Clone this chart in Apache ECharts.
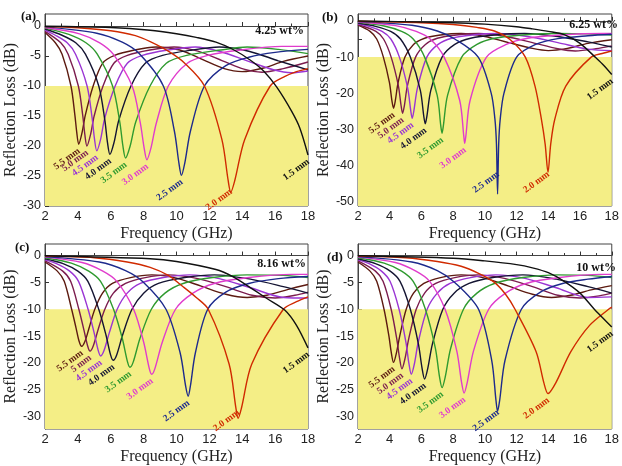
<!DOCTYPE html>
<html>
<head>
<meta charset="utf-8">
<script src="https://cdn.jsdelivr.net/npm/echarts@6/dist/echarts.min.js"></script>
<style>
  html, body { margin: 0; padding: 0; background: #fff; }
</style>
</head>
<body>
<div id="main" style="width:622px;height:466px;"></div>
<script type="text/javascript">
// thickness labels, line colours (5.5 mm ... 1.5 mm)
var thickA = ['5.5 mm', '5.0 mm', '4.5 mm', '4.0 mm', '3.5 mm', '3.0 mm', '2.5 mm', '2.0 mm', '1.5 mm'];
var thickC = ['5.5 mm', '5 mm', '4.5 mm', '4.0 mm', '3.5 mm', '3.0 mm', '2.5 mm', '2.0 mm', '1.5 mm'];
var lineColors = ['#5c1a10', '#7b1c4e', '#9a35d4', '#141432', '#2f9a2f', '#e03ccc', '#1d2a8c', '#d02a00', '#111111'];
var panelTags = ['(a)', '(b)', '(c)', '(d)'];
var loadings = ['4.25 wt%', '6.25 wt%', '8.16 wt%', '10 wt%'];

// (a) 4.25 wt%   [frequency GHz, RL dB]
var a55 = [[2,-1.1],[2.63,-2.8],[3.04,-4.7],[3.58,-10],[3.82,-14.9],[3.93,-17.7],[4.05,-19.7],[4.26,-17.7],[4.45,-14.9],[4.93,-10],[5.51,-6.2],[6.23,-4.9],[7.45,-4.0],[8.75,-3.5],[10.2,-4.0],[11.6,-5.6],[12.9,-7.1],[14,-7.6],[15.3,-7.0],[16.5,-5.9],[18,-5.0]];
var a50 = [[2,-0.9],[2.96,-2.8],[3.41,-4.7],[4.03,-10],[4.30,-15],[4.42,-18],[4.55,-20],[4.78,-18],[4.99,-15],[5.53,-10],[6.19,-6.2],[7.01,-4.9],[8.38,-4.0],[9.85,-3.5],[11.3,-4.2],[12.8,-5.8],[14.1,-7.2],[15.2,-7.7],[16.5,-7.1],[18,-6.0]];
var a45 = [[2,-0.7],[2.6,-1.5],[3.35,-2.8],[3.86,-4.7],[4.56,-10],[4.87,-15.4],[5.01,-18.8],[5.15,-20.8],[5.39,-18.8],[5.63,-15.4],[6.27,-10],[7.01,-6.2],[7.93,-4.9],[9.48,-4.0],[11.15,-3.5],[12.7,-4.3],[14.3,-5.8],[15.9,-7.3],[17,-7.8],[18,-7.5]];
var a40 = [[2,-0.5],[3,-1.5],[3.87,-2.8],[4.46,-4.7],[5.27,-10],[5.64,-15.7],[5.8,-19.4],[5.95,-21.4],[6.2,-19.4],[6.49,-15.7],[7.23,-10],[8.1,-6.2],[9.15,-4.9],[10.95,-4.0],[12.6,-3.5],[14.4,-4.2],[16.2,-5.8],[18,-7.3]];
var a35 = [[2,-0.35],[3.45,-1.4],[4.49,-2.8],[5.18,-4.7],[6.11,-10],[6.55,-16],[6.74,-20],[6.9,-22],[7.18,-20],[7.52,-16],[8.39,-10],[9.38,-6.2],[10.62,-4.9],[12.7,-4.0],[14.3,-3.5],[16.2,-3.9],[18,-4.6]];
var a30 = [[2,-0.25],[4.1,-1.3],[5.33,-2.8],[6.15,-4.7],[7.3,-10],[7.8,-16.2],[8.03,-20.3],[8.2,-22.3],[8.45,-20.3],[8.77,-16.2],[9.5,-10],[10.66,-6.2],[11.9,-4.9],[13.9,-4.0],[16.4,-3.4],[18,-3.4]];
var a25 = [[2,-0.15],[5.15,-1.2],[6.7,-2.7],[7.73,-4.6],[9.2,-10],[9.87,-17.5],[10.15,-22.9],[10.3,-24.9],[10.5,-22.9],[10.85,-17.5],[11.7,-10],[13.0,-6.6],[14.4,-5.2],[16,-4.4],[18,-3.9]];
var a20 = [[2,-0.1],[4,-0.3],[6,-0.8],[7.5,-1.6],[8.4,-2.6],[9.5,-4.2],[10.5,-6.2],[11.7,-10],[12.76,-18.9],[13.14,-25.7],[13.3,-27.7],[13.55,-25.7],[14.15,-18.9],[15.7,-10],[16.6,-8.4],[17.3,-7.6],[18,-7.1]];
var a15 = [[2,-0.05],[6,-0.25],[8.4,-0.7],[10,-1.3],[11.2,-1.9],[12.4,-2.7],[13.5,-4],[14.5,-5.7],[15.3,-7.5],[16.1,-10.2],[17,-14.2],[17.5,-17],[18,-21.5]];

// (b) 6.25 wt%
var b55 = [[2,-1.2],[2.76,-2.9],[3.18,-5],[3.6,-10],[3.98,-17],[4.14,-22.1],[4.24,-24.1],[4.35,-22.1],[4.53,-17],[4.96,-10],[5.5,-6.5],[6.2,-4.8],[7.2,-3.9],[8.5,-3.5],[10,-4.3],[11.5,-6],[13,-7.6],[14,-8.2],[15.2,-7.6],[16.5,-6.2],[18,-5.2]];
var b50 = [[2,-1.0],[3.13,-2.9],[3.61,-5],[4.09,-10],[4.54,-17.8],[4.72,-23.5],[4.81,-25.5],[4.92,-23.5],[5.12,-17.8],[5.63,-10],[6.25,-6.5],[7,-4.8],[8.2,-3.9],[9.6,-3.5],[11.3,-4.3],[13,-6],[14.6,-7.7],[15.7,-8.3],[17,-7.7],[18,-6.9]];
var b45 = [[2,-0.8],[2.7,-1.5],[3.52,-2.9],[4.07,-5],[4.61,-10],[5.13,-18.5],[5.33,-24.9],[5.42,-26.9],[5.52,-24.9],[5.75,-18.5],[6.34,-10],[7.05,-6.5],[7.9,-4.8],[9.2,-3.9],[10.8,-3.5],[12.7,-4.3],[14.6,-6],[16.5,-7.8],[18,-8.2]];
var b40 = [[2,-0.6],[3.1,-1.5],[4.06,-2.9],[4.68,-5],[5.3,-10],[5.93,-19.2],[6.15,-26.4],[6.24,-28.4],[6.34,-26.4],[6.59,-19.2],[7.3,-10],[8.1,-6.5],[9.1,-4.8],[10.6,-3.9],[12.5,-3.5],[14.6,-4.3],[16.5,-5.8],[18,-7.2]];
var b35 = [[2,-0.4],[3.65,-1.4],[4.75,-2.9],[5.48,-5],[6.2,-10],[6.99,-20.5],[7.22,-29],[7.3,-31],[7.38,-29],[7.65,-20.5],[8.54,-10],[9.5,-6.5],[10.6,-4.8],[12.4,-3.9],[14.6,-3.5],[16.5,-3.6],[18,-3.9]];
var b30 = [[2,-0.3],[4.37,-1.3],[5.67,-2.9],[6.55,-5],[7.43,-10],[8.41,-21.9],[8.67,-31.8],[8.73,-33.8],[8.8,-31.8],[9.07,-21.9],[10.1,-10],[11.35,-6.5],[12.7,-4.8],[14.8,-3.9],[17.5,-3.5],[18,-3.5]];
var b25 = [[2,-0.2],[5.4,-1.2],[7,-2.8],[8.1,-5],[9.58,-10],[10.4,-20],[10.63,-27],[10.73,-34],[10.8,-47.8],[10.87,-34],[10.97,-27],[11.2,-20],[12.0,-10],[13.2,-6.5],[14.6,-4.9],[16.5,-4.1],[18,-3.7]];
var b20 = [[2,-0.1],[6,-0.5],[8,-1],[9.5,-1.8],[10.6,-2.8],[11.6,-5.2],[12.55,-10],[13.16,-18],[13.57,-27.3],[13.8,-34],[13.98,-41.8],[14.15,-34],[14.4,-27.3],[15.1,-18],[16.7,-10],[17.4,-9],[18,-8.3]];
var b15 = [[2,-0.05],[8,-0.5],[10,-0.9],[12,-1.6],[13,-2.2],[14,-2.9],[15,-3.8],[16,-6.2],[17,-10.2],[17.5,-12.3],[18,-14.8]];

// (c) 8.16 wt%
var c55 = [[2,-1.2],[2.75,-2.9],[3.17,-4.8],[3.62,-10],[3.89,-13.5],[4.07,-15.9],[4.23,-16.9],[4.44,-15.9],[4.68,-13.5],[5.03,-10],[5.5,-7],[6.1,-5.2],[7.2,-4.1],[8.5,-3.6],[10,-4.2],[11.5,-5.7],[13,-7.2],[14.3,-7.8],[15.5,-7.4],[16.8,-6.3],[18,-5.4]];
var c50 = [[2,-1.0],[3.08,-2.9],[3.56,-4.8],[4.06,-10],[4.37,-13.9],[4.59,-16.8],[4.74,-17.8],[4.94,-16.8],[5.22,-13.9],[5.64,-10],[6.16,-7],[6.9,-5.2],[8.1,-4.1],[9.5,-3.6],[11.3,-4.3],[13,-5.8],[14.6,-7.4],[16,-7.9],[17.2,-7.4],[18,-6.8]];
var c45 = [[2,-0.8],[2.7,-1.5],[3.5,-2.9],[4.04,-4.8],[4.62,-10],[4.99,-14.4],[5.24,-17.7],[5.39,-18.7],[5.59,-17.7],[5.91,-14.4],[6.39,-10],[7.0,-7],[7.8,-5.2],[9.2,-4.1],[10.8,-3.6],[12.6,-4.3],[14.5,-6],[16.5,-7.8],[18,-7.9]];
var c40 = [[2,-0.6],[3.1,-1.5],[4.0,-2.9],[4.61,-4.8],[5.27,-10],[5.71,-14.8],[5.99,-18.5],[6.15,-19.5],[6.36,-18.5],[6.72,-14.8],[7.29,-10],[8.0,-7],[8.9,-5.2],[10.5,-4.1],[12.3,-3.6],[14.5,-4.4],[16.5,-5.8],[18,-7]];
var c35 = [[2,-0.4],[3.6,-1.4],[4.66,-2.9],[5.38,-4.8],[6.17,-10],[6.7,-15.4],[7.02,-19.8],[7.17,-20.8],[7.37,-19.8],[7.78,-15.4],[8.47,-10],[9.3,-7],[10.4,-5.2],[12.2,-4.1],[14.3,-3.6],[16.5,-3.7],[18,-4.1]];
var c30 = [[2,-0.3],[4.25,-1.3],[5.52,-2.9],[6.37,-4.8],[7.39,-10],[8.0,-16.1],[8.35,-21.1],[8.49,-22.1],[8.68,-21.1],[9.14,-16.1],[9.94,-10],[11.0,-7],[12.3,-5.2],[14.4,-4.1],[17,-3.5],[18,-3.5]];
var c25 = [[2,-0.2],[5.3,-1.2],[6.9,-2.8],[8.0,-5],[9.36,-10],[10.22,-18.1],[10.55,-24.2],[10.71,-26.2],[10.85,-24.2],[11.15,-18.1],[11.9,-10],[13.0,-6.8],[14.4,-5.2],[16.2,-4.3],[18,-3.9]];
var c20 = [[2,-0.1],[5,-0.4],[7,-1.2],[8.4,-2.2],[9.5,-3.7],[10.4,-5.8],[11.2,-7.8],[11.93,-10],[13.2,-20.2],[13.61,-28.3],[13.75,-30.3],[13.96,-28.3],[14.58,-20.2],[16.5,-10],[17.3,-8.6],[18,-7.7]];
var c15 = [[2,-0.05],[8.4,-0.6],[10,-1.1],[12.4,-2.6],[13.4,-3.9],[14.4,-5.8],[15.5,-8],[16.6,-10.2],[17.3,-13],[18,-17.2]];

// (d) 10 wt%
var d55 = [[2,-1.2],[2.76,-2.9],[3.18,-4.8],[3.64,-10],[3.95,-15],[4.09,-17.9],[4.24,-19.9],[4.44,-17.9],[4.63,-15],[5.04,-10],[5.5,-7],[6.15,-5.2],[7.2,-4.1],[8.5,-3.6],[10,-4.2],[11.5,-5.7],[13,-7.2],[14.2,-7.8],[15.4,-7.4],[16.7,-6.4],[18,-5.6]];
var d50 = [[2,-1.0],[3.1,-2.9],[3.58,-4.8],[4.09,-10],[4.45,-15.6],[4.62,-19.1],[4.77,-21.1],[4.97,-19.1],[5.19,-15.6],[5.67,-10],[6.2,-7],[6.9,-5.2],[8.1,-4.1],[9.5,-3.6],[11.3,-4.3],[13,-5.8],[14.6,-7.4],[16,-7.9],[17.2,-7.5],[18,-7]];
var d45 = [[2,-0.8],[2.7,-1.5],[3.48,-2.9],[4.02,-4.8],[4.59,-10],[5.02,-16.1],[5.21,-20.1],[5.36,-22.1],[5.56,-20.1],[5.8,-16.1],[6.36,-10],[7.0,-7],[7.8,-5.2],[9.1,-4.1],[10.7,-3.6],[12.6,-4.3],[14.5,-6],[16.5,-7.8],[18,-7.7]];
var d40 = [[2,-0.6],[3.1,-1.5],[4.03,-2.9],[4.65,-4.8],[5.3,-10],[5.81,-16.5],[6.04,-21],[6.2,-23],[6.4,-21],[6.69,-16.5],[7.35,-10],[8.06,-7],[9.0,-5.2],[10.5,-4.1],[12.4,-3.6],[14.5,-4.4],[16.5,-5.8],[18,-7]];
var d35 = [[2,-0.4],[3.65,-1.4],[4.75,-2.9],[5.48,-4.8],[6.25,-10],[6.88,-17.3],[7.14,-22.6],[7.3,-24.6],[7.5,-22.6],[7.84,-17.3],[8.65,-10],[9.5,-7],[10.6,-5.2],[12.4,-4.1],[14.6,-3.6],[16.5,-3.7],[18,-4.1]];
var d30 = [[2,-0.3],[4.35,-1.3],[5.65,-2.9],[6.52,-4.8],[7.49,-10],[8.23,-17.8],[8.53,-23.6],[8.69,-25.6],[8.89,-23.6],[9.28,-17.8],[10.24,-10],[11.3,-7],[12.6,-5.2],[14.7,-4.1],[17.3,-3.5],[18,-3.5]];
var d25 = [[2,-0.2],[5.4,-1.2],[7,-2.8],[8.1,-5],[9.6,-10],[10.43,-19.5],[10.7,-27],[10.8,-29],[10.93,-27],[11.27,-19.5],[12.3,-10],[13.5,-6.8],[14.9,-5.2],[16.5,-4.4],[18,-3.9]];
var d20 = [[2,-0.1],[5,-0.4],[7,-1.1],[8.5,-2],[9.6,-3.3],[10.56,-4.9],[11.3,-7.2],[11.9,-10],[13.23,-17.9],[13.72,-23.7],[13.98,-25.7],[14.47,-23.7],[15.42,-17.9],[16.6,-13],[17.8,-10],[18,-9.6]];
var d15 = [[2,-0.05],[8,-0.5],[10,-1],[12,-1.7],[13,-2.3],[14,-3.2],[15,-4.8],[16,-7],[16.9,-10],[17.5,-11.8],[18,-13.3]];

// y axis extents and tick values per panel
var yMins = [-30, -51.1, -32.3, -32.3];
var yMaxs = [2, 1.9, 2.15, 2.15];
var yTicksA = [0, -5, -10, -15, -20, -25, -30];
var yTicksB = [0, -5, -10, -15, -20, -25, -30, -35, -40, -45, -50];
var yLabelsB = [0, -10, -20, -30, -40, -50];
// lowest level a thickness label may hang from (keeps text inside the frame)
var labelFloor = [-26.5, -40.5, -28, -28];

var curvesByPanel = [
    [a55, a50, a45, a40, a35, a30, a25, a20, a15],
    [b55, b50, b45, b40, b35, b30, b25, b20, b15],
    [c55, c50, c45, c40, c35, c30, c25, c20, c15],
    [d55, d50, d45, d40, d35, d30, d25, d20, d15]
];
var labelsByPanel = [thickA, thickA, thickC, thickA];

var grids = [
    {left: 45, top: 14, width: 263, height: 192},
    {left: 358, top: 14, width: 261, height: 192},
    {left: 45, top: 244, width: 263, height: 192},
    {left: 358, top: 244, width: 261, height: 192}
];

var myChart = echarts.init(document.getElementById('main'), null, {renderer: 'canvas'});

var xAxes = [], yAxes = [], series = [];
for (var p = 0; p < 4; p++) {
    grids[p].show = true;
    grids[p].borderColor = '#444';
    grids[p].borderWidth = 1;
    grids[p].backgroundColor = 'transparent';

    xAxes.push({
        type: 'value', gridIndex: p, min: 2, max: 18, interval: 2,
        name: 'Frequency (GHz)', nameLocation: 'middle', nameGap: 20,
        nameTextStyle: {fontFamily: 'Liberation Serif', fontSize: 16, color: '#222'},
        axisLine: {show: true, lineStyle: {color: '#444'}},
        axisTick: {show: true, inside: true, length: 4, lineStyle: {color: '#333'}},
        minorTick: {show: true, splitNumber: 2, length: 2.5, lineStyle: {color: '#333'}},
        axisLabel: {fontFamily: 'Liberation Sans', fontSize: 13, color: '#222', margin: 4},
        splitLine: {show: false}
    });
    var tickVals = p === 1 ? yTicksB : yTicksA;
    var labVals = p === 1 ? yLabelsB : yTicksA;
    yAxes.push({
        type: 'value', gridIndex: p, min: yMins[p], max: yMaxs[p],
        name: 'Reflection Loss (dB)', nameLocation: 'middle', nameGap: 20,
        nameTextStyle: {fontFamily: 'Liberation Serif', fontSize: 16, color: '#222'},
        axisLine: {show: true, lineStyle: {color: '#444'}},
        axisTick: {show: true, inside: true, length: 4, customValues: tickVals, lineStyle: {color: '#333'}},
        axisLabel: {fontFamily: 'Liberation Sans', fontSize: 12.5, color: '#222', margin: 4, customValues: labVals},
        splitLine: {show: false}
    });

    // yellow band below -10 dB
    series.push({
        type: 'line', xAxisIndex: p, yAxisIndex: p, data: [], z: 1, silent: true,
        markArea: {
            silent: true,
            itemStyle: {color: '#f4ee86'},
            data: [[{yAxis: -10}, {yAxis: yMins[p]}]]
        }
    });

    var curves = curvesByPanel[p];
    for (var i = 0; i < curves.length; i++) {
        var data = curves[i];
        var mi = 0;
        for (var k = 1; k < data.length; k++) {
            if (data[k][1] < data[mi][1]) mi = k;
        }
        var anchor = [data[mi][0], Math.max(data[mi][1], labelFloor[p])];
        series.push({
            type: 'line', xAxisIndex: p, yAxisIndex: p, z: 3,
            data: data, smooth: 0.3,
            showSymbol: false, symbol: 'none', silent: true,
            lineStyle: {color: lineColors[i], width: 1.4},
            markPoint: {
                symbol: 'circle', symbolSize: 0, silent: true,
                data: [{coord: anchor}],
                label: {
                    show: true, formatter: labelsByPanel[p][i],
                    position: 'inside', rotate: 36, align: 'right', verticalAlign: 'top',
                    offset: [-3, 0],
                    color: lineColors[i], fontFamily: 'Liberation Serif',
                    fontWeight: 'bold', fontSize: 9.5
                }
            }
        });
    }
}

var tagPos = [[21, 10], [322, 11], [15, 241], [327, 251]];
var loadPos = [[318, 25], [4, 19], [316, 258], [6, 262]];
var graphics = [];
for (var g = 0; g < 4; g++) {
    graphics.push({
        type: 'text', left: tagPos[g][0], top: tagPos[g][1], z: 10,
        style: {text: panelTags[g], font: 'bold 13px "Liberation Serif"', fill: '#111'}
    });
    graphics.push({
        type: 'text', right: loadPos[g][0], top: loadPos[g][1], z: 10,
        style: {text: loadings[g], font: 'bold 12px "Liberation Serif"', fill: '#111'}
    });
}

var option = {
    animation: false,
    backgroundColor: '#ffffff',
    grid: grids,
    xAxis: xAxes,
    yAxis: yAxes,
    series: series,
    graphic: graphics
};
myChart.setOption(option);
</script>
</body>
</html>
